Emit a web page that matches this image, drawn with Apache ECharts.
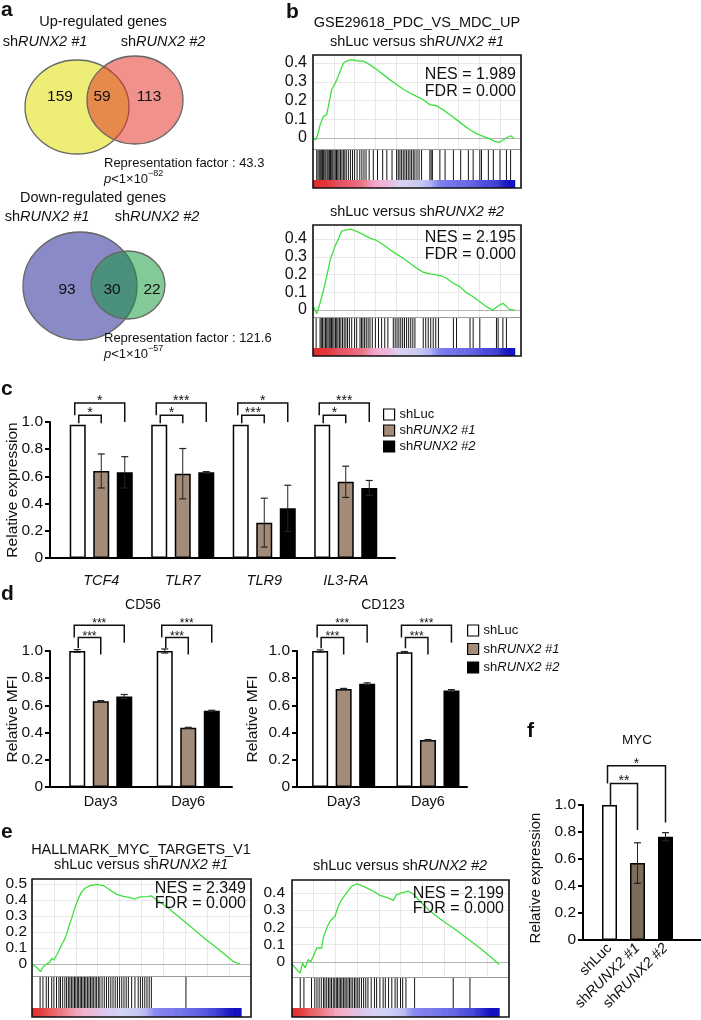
<!DOCTYPE html>
<html><head><meta charset="utf-8">
<script src="https://cdn.jsdelivr.net/npm/echarts@6/dist/echarts.min.js"></script>
<style>html,body{margin:0;padding:0;background:#fff}#main{width:701px;height:1020px}</style>
</head><body><div id="main"></div>
<script>
// ================= DATA =================
const vennUpCounts = [159, 59, 113];
const vennDownCounts = [93, 30, 22];
const vennUpFactor = '43.3', vennUpExp = '\u221282';
const vennDownFactor = '121.6', vennDownExp = '\u221257';

const groupNames = ['shLuc', 'shRUNX2 #1', 'shRUNX2 #2'];

// panel c
const cGenes = ['TCF4', 'TLR7', 'TLR9', 'IL3-RA'];
const cShLuc = [0.98, 0.98, 0.98, 0.98];
const cSh1 = [0.64, 0.62, 0.26, 0.56];
const cSh1Err = [0.125, 0.185, 0.18, 0.115];
const cSh2 = [0.63, 0.63, 0.365, 0.515];
const cSh2Err = [0.115, 0.005, 0.17, 0.055];
const cStarsInner = ['*', '*', '***', '*'];
const cStarsOuter = ['*', '***', '*', '***'];

// panel d
const dDays = ['Day3', 'Day6'];
const cd56ShLuc = [1.0, 1.0], cd56ShLucErr = [0.01, 0.015];
const cd56Sh1 = [0.63, 0.435], cd56Sh1Err = [0.005, 0.004];
const cd56Sh2 = [0.665, 0.56], cd56Sh2Err = [0.015, 0.004];
const cd123ShLuc = [1.0, 0.99], cd123ShLucErr = [0.008, 0.006];
const cd123Sh1 = [0.72, 0.345], cd123Sh1Err = [0.005, 0.004];
const cd123Sh2 = [0.76, 0.71], cd123Sh2Err = [0.006, 0.006];
const dStars = ['***', '***'];

// panel f
const mycValues = [1.0, 0.57, 0.765];
const mycErr = [0, 0.15, 0.03];
const mycStarsInner = '**', mycStarsOuter = '*';

// GSEA ticks
const bTicks = [0, 0.1, 0.2, 0.3, 0.4];
const eTicks1 = [0, 0.1, 0.2, 0.3, 0.4, 0.5];
const eTicks2 = [0, 0.1, 0.2, 0.3, 0.4];

// GSEA b: GSE29618_PDC_VS_MDC_UP
const b1NES = '1.989', b1FDR = '0.000';
const b1Rank = [0,0.2,1.4,2.5,3.4,5,6.6,7.4,9,10.6,11.4,13,14.6,16.2,18.6,21,24.2,27.4,30.6,33.8,37,40.2,43.4,46.6,49.8,53,56.2,59.4,62.6,65.8,69,72.2,75.4,78.6,81.8,85,87.3,89.7,92.9,95,96.5];
const b1ES = [0,0.01,-0.01,0.027,0.07,0.115,0.125,0.17,0.26,0.29,0.31,0.355,0.40,0.41,0.418,0.412,0.41,0.39,0.365,0.338,0.31,0.285,0.26,0.24,0.222,0.204,0.178,0.172,0.15,0.124,0.098,0.07,0.044,0.023,0.009,-0.005,-0.018,-0.023,0.0,0.012,0.0];
const b1Hits = [1.8,2.4,3.0,3.5,4.0,4.6,5.1,5.7,6.2,6.8,7.3,7.9,8.4,9.0,9.5,10.1,10.7,11.3,11.9,12.5,13.2,13.9,14.6,15.3,16.0,17.0,18.0,19.0,20.0,21.2,22.5,23.5,24.5,25.5,27.0,29.0,31.0,33.5,35.5,38.0,40.2,41.0,41.8,42.6,43.4,44.2,45.0,45.8,46.6,47.4,48.2,49.0,50.0,51.0,52.2,56.2,56.8,57.4,61.0,63.5,67.5,71.0,74.7,77.0,80.2,81.0,84.3,86.7,89.9,93.0,95.0];
const b2NES = '2.195', b2FDR = '0.000';
const b2Rank = [0,0.2,1.8,3.4,5,6.6,8.2,10.6,12.2,13.8,16.2,18.6,21,24.2,27.4,30.6,33.8,37,40.2,43.4,46.6,49.8,53,56.2,59.4,61.8,64.2,67.4,70.6,73.8,77,80.2,83.4,86.5,88.9,91.3,94.5,97];
const b2ES = [0,0.02,-0.02,0.04,0.11,0.19,0.28,0.36,0.40,0.445,0.452,0.455,0.443,0.425,0.405,0.392,0.368,0.34,0.315,0.292,0.264,0.236,0.213,0.204,0.198,0.192,0.179,0.151,0.132,0.098,0.075,0.047,0.019,0.0,0.023,0.038,0.004,0.0];
const b2Hits = [1.5,3.4,4.0,4.6,5.3,6.0,6.6,7.2,7.8,8.3,8.9,9.5,10.1,10.8,11.4,12.0,12.7,13.4,14.2,15.0,15.8,16.6,17.5,18.6,20.0,21.0,22.6,23.3,24.0,24.8,25.6,26.5,27.4,28.5,30.0,31.5,33.0,34.5,36.0,38.6,39.5,40.4,41.3,42.2,43.1,44.0,45.0,46.0,47.0,48.0,49.0,53.0,54.2,55.4,56.6,57.8,59.0,60.3,67.5,69.0,75.5,77.0,80.2,88.2,89.0,91.3,93.0];
const bListEnd = 97;
const bRankColors = ['#e02828','#e23232','#e43c40','#e65060','#e85c6c','#ea6878','#ec7888','#f0a0c0','#f0b0d0','#ecb8dc','#dcd0f0','#d4d0f2','#ccccf2','#c4c4f2','#b0b0f0','#8080ee','#7878ec','#7070ea','#6a6ae8','#6464e6','#5050dc','#4848d8','#3c3cd2','#1414c0'];

// GSEA e: HALLMARK_MYC_TARGETS_V1
const e1NES = '2.349', e1FDR = '0.000';
const e1Rank = [0,2.1,3.9,5.1,6.6,8.1,9,10,11.3,12.8,13.5,15.1,16.6,18.1,19.6,21.2,22.7,24.2,26.5,29.5,32.6,35.6,38.7,41.7,44.8,47,49.3,52.4,54.6,56.9,61.5,66,70.6,75.2,79.7,84.3,88.9,91.9,95];
const e1ES = [0,-0.02,-0.048,-0.017,0,0.01,0.035,0.025,0.056,0.098,0.119,0.16,0.223,0.285,0.352,0.41,0.452,0.473,0.49,0.498,0.49,0.4625,0.435,0.423,0.415,0.406,0.419,0.421,0.425,0.4,0.358,0.306,0.254,0.202,0.15,0.102,0.05,0.015,0];
const e1Hits = [3.7,5,6.5,7.5,9,10,11.2,12.3,13,14,15,15.8,16.6,17.3,18,18.7,19.4,20,20.7,21.3,22,22.6,23.3,24,24.6,25.3,26,26.7,27.4,28,28.8,29.5,30.3,31,32,33,34,35,36,37,38,39,40,41,42,43,44,45.5,47,48.5,49.5,50.5,51.5,52.5,53.5,54.5,70.3];
const e2NES = '2.199', e2FDR = '0.000';
const e2Rank = [0,0.3,2.2,3.7,4.9,6,7.5,8.6,9.8,11.4,13.7,14.4,16,17.5,19.8,21.3,22.9,25.2,27.5,29.8,32.1,34.4,37.5,40.5,43.6,46.7,48.2,50.5,53.6,55.9,59,63.6,69.7,74.3,77.4,82,86.6,91.2,95.5];
const e2ES = [-0.01,-0.02,-0.044,-0.064,-0.006,-0.035,0.014,0,0.033,0.081,0.081,0.139,0.197,0.236,0.265,0.323,0.361,0.4,0.439,0.452,0.442,0.429,0.41,0.386,0.375,0.357,0.39,0.4,0.41,0.394,0.352,0.294,0.236,0.197,0.168,0.124,0.081,0.033,-0.015];
const e2Hits = [3.8,5.5,9.0,10.5,11.5,12.5,13.5,14.5,15.2,16,16.8,17.5,18.2,19,19.7,20.4,21,21.7,22.4,23,23.7,24.4,25,25.8,26.5,27.2,28,28.8,29.5,30.3,31,32,33,34,35,36.5,38,39,40.5,42,43,44.5,46,47.5,48.5,50,51,52.5,56.5,74.3,82];
const eListEnd = 95.5;
const eRankColors = ['#e32a2a','#e53d3d','#e85a5a','#ea7078','#ee8a98','#f2a4b8','#f0b4cc','#e8bcdc','#dcc4ea','#d6cef0','#d4d4f4','#cfd0f4','#c8c8f4','#b8b8f2','#8c8cf0','#8080ee','#7a7aec','#7474ea','#6c6ce8','#6262e4','#5252de','#4444d8','#2a2acc','#1111c0'];

// ================= STYLE / LAYOUT =================
const FONT = '"Liberation Sans", Arial, Helvetica, sans-serif';
const INK = '#111';
const BROWN = '#a28b79';
const BROWN_F = '#7d6c5a';
const GREEN = '#3ee03e';

const option = {animation:false, backgroundColor:'#fff', textStyle:{fontFamily:FONT},
  grid:[], xAxis:[], yAxis:[], series:[], graphic:[], legend:[]};
const G = option.graphic;
const shLabel = n => (n.indexOf('shRUNX2') === 0 ? 'sh{i|' + n.slice(2) + '}' : n);

function text(x, y, str, o) {
  o = o || {};
  const size = o.size || 14;
  const rich = Object.assign({i:{fontStyle:'italic', fontSize:size, fontFamily:FONT, fill:INK}}, o.rich || {});
  G.push({type:'text', x:x, y:y, rotation:o.rot || 0, z:100, silent:true,
    style:Object.assign({text:str, fill:INK, fontFamily:FONT, fontSize:size, fontWeight:o.weight || 'normal',
      align:o.align || 'center', verticalAlign:o.va || 'middle', rich:rich}, o.style || {})});
}
function addGrid(l, t, w, h) {
  option.grid.push({left:l, top:t, width:w, height:h, containLabel:false, outerBoundsMode:'none', show:false});
  return option.grid.length - 1;
}
function addX(c) { option.xAxis.push(c); return option.xAxis.length - 1; }
function addY(c) { option.yAxis.push(c); return option.yAxis.length - 1; }

// ---------- Venn diagrams (panel a) ----------
text(1, 10, 'a', {size:21, weight:'bold', align:'left'});
text(103, 22, 'Up-regulated genes', {size:14.5});
text(45, 42, 'sh{i|RUNX2 #1}', {size:14.5});
text(163, 42, 'sh{i|RUNX2 #2}', {size:14.5});
G.push({type:'ellipse', z:10, silent:true, shape:{cx:77, cy:107, rx:52, ry:47}, style:{fill:'#eeee77', stroke:'#666', lineWidth:1.3}});
G.push({type:'ellipse', z:11, silent:true, shape:{cx:135, cy:100, rx:48, ry:44}, style:{fill:'rgba(227,47,38,0.53)', stroke:'#666', lineWidth:1.3}});
text(60, 97, String(vennUpCounts[0]), {size:15.5});
text(102, 97, String(vennUpCounts[1]), {size:15.5});
text(149, 97, String(vennUpCounts[2]), {size:15.5});
const pRich = {pi:{fontStyle:'italic', fontSize:13, fontFamily:FONT, fill:INK, lineHeight:19},
  b:{fontSize:13, fontFamily:FONT, fill:INK, lineHeight:19},
  sup:{fontSize:9, fontFamily:FONT, fill:INK, verticalAlign:'top', lineHeight:9}};
text(104, 163, 'Representation factor : ' + vennUpFactor, {size:13, align:'left'});
text(104, 179, '{pi|p}{b|<1\u00d710}{sup|' + vennUpExp + '}', {size:13, align:'left', rich:pRich});

text(93, 198, 'Down-regulated genes', {size:14.5});
text(47, 217, 'sh{i|RUNX2 #1}', {size:14.5});
text(157, 217, 'sh{i|RUNX2 #2}', {size:14.5});
G.push({type:'ellipse', z:10, silent:true, shape:{cx:80, cy:286, rx:57, ry:54}, style:{fill:'#8a8ac6', stroke:'#666', lineWidth:1.3}});
G.push({type:'ellipse', z:11, silent:true, shape:{cx:128, cy:285, rx:37, ry:34}, style:{fill:'rgba(10,150,50,0.5)', stroke:'#666', lineWidth:1.3}});
text(67, 290, String(vennDownCounts[0]), {size:15.5});
text(112, 290, String(vennDownCounts[1]), {size:15.5});
text(152, 290, String(vennDownCounts[2]), {size:15.5});
text(104, 338, 'Representation factor : ' + vennDownFactor, {size:13, align:'left'});
text(104, 354, '{pi|p}{b|<1\u00d710}{sup|' + vennDownExp + '}', {size:13, align:'left', rich:pRich});

// ---------- GSEA panels ----------
function gseaPanel(g) {
  const L = g.left, T = g.top, W = g.width;
  const gc = addGrid(L, T, W, g.curveH);
  const xc = addX({gridIndex:gc, type:'value', min:0, max:100, interval:10,
    axisLine:{show:true, onZero:false, lineStyle:{color:'#9a9a9a', width:1}}, axisTick:{show:false},
    axisLabel:{show:false}, splitLine:{show:true, lineStyle:{color:'#e8e8e8', width:1}}});
  const yc = addY({gridIndex:gc, type:'value', min:g.yMin, max:g.yMax,
    axisLine:{show:false}, axisTick:{show:false}, splitLine:{show:false},
    axisLabel:{show:true, customValues:g.ticks, formatter:v => (Math.abs(v) < 1e-9 ? '0' : v.toFixed(1)),
      fontSize:g.tickFont, color:INK, margin:g.labelMargin, fontFamily:FONT}});
  option.series.push({type:'line', xAxisIndex:xc, yAxisIndex:yc, silent:true, z:10,
    data:g.rank.map((r, i) => [r, g.es[i]]), showSymbol:false, symbol:'none',
    lineStyle:{color:GREEN, width:1.3},
    markLine:{silent:true, symbol:'none', label:{show:false}, z:1,
      data:g.ticks.map(t => ({yAxis:t, lineStyle:{color:(t === 0 ? '#b4b4b4' : '#e8e8e8'), width:1, type:'solid'}}))}});
  // hit strip
  const gs = addGrid(L, T + g.curveH, W, g.stripH);
  const xs = addX({gridIndex:gs, type:'value', min:0, max:100, show:false});
  const ys = addY({gridIndex:gs, type:'value', min:0, max:1, show:false});
  option.series.push({type:'custom', xAxisIndex:xs, yAxisIndex:ys, silent:true, z:4,
    data:g.hits.map(h => [h, 0]),
    renderItem:(params, api) => {
      const cs = params.coordSys;
      const x = api.coord([api.value(0), 0])[0];
      return {type:'line', shape:{x1:x, y1:cs.y + 1, x2:x, y2:cs.y + cs.height}, style:{stroke:'#151515', lineWidth:1}};
    }});
  // rank colour bar
  const gk = addGrid(L, T + g.curveH + g.stripH, W, g.colorH);
  const xk = addX({gridIndex:gk, type:'value', min:0, max:100, show:false});
  const yk = addY({gridIndex:gk, type:'value', min:0, max:1, show:false});
  const step = g.listEnd / g.colors.length;
  option.series.push({type:'custom', xAxisIndex:xk, yAxisIndex:yk, silent:true, z:4,
    data:g.colors.map((c, i) => [i * step, 0]),
    renderItem:(params, api) => {
      const cs = params.coordSys;
      const i = params.dataIndex;
      const x0 = api.coord([api.value(0), 0])[0];
      const x1 = api.coord([api.value(0) + step, 0])[0];
      const c0 = g.colors[i], c1 = g.colors[Math.min(i + 1, g.colors.length - 1)];
      return {type:'rect', shape:{x:x0, y:cs.y, width:x1 - x0 + 0.5, height:cs.height},
        style:{fill:new echarts.graphic.LinearGradient(0, 0, 1, 0, [{offset:0, color:c0}, {offset:1, color:c1}])}};
    }});
  // frame
  G.push({type:'rect', z:120, silent:true, shape:{x:L, y:T, width:W, height:g.curveH + g.stripH + g.colorH},
    style:{fill:'none', stroke:INK, lineWidth:1.6}});
  text(L + W - 5, g.nesY, 'NES = ' + g.nes, {size:16, align:'right'});
  text(L + W - 5, g.nesY + g.fdrDy, 'FDR = ' + g.fdr, {size:16, align:'right'});
}

text(286, 12, 'b', {size:21, weight:'bold', align:'left'});
text(417, 23, 'GSE29618_PDC_VS_MDC_UP', {size:14.5});
text(417, 42, 'shLuc versus sh{i|RUNX2 #1}', {size:14.5});
gseaPanel({left:313, top:55, width:208, curveH:94, stripH:31, colorH:8, yMin:-0.0587, yMax:0.4427,
  ticks:bTicks, tickFont:16, labelMargin:6, rank:b1Rank, es:b1ES, hits:b1Hits, colors:bRankColors, listEnd:bListEnd,
  nes:b1NES, fdr:b1FDR, nesY:75, fdrDy:17});
text(417, 212, 'shLuc versus sh{i|RUNX2 #2}', {size:14.5});
gseaPanel({left:313, top:225, width:208, curveH:92, stripH:31, colorH:8, yMin:-0.039, yMax:0.479,
  ticks:bTicks, tickFont:16, labelMargin:6, rank:b2Rank, es:b2ES, hits:b2Hits, colors:bRankColors, listEnd:bListEnd,
  nes:b2NES, fdr:b2FDR, nesY:238, fdrDy:17});

text(1, 832, 'e', {size:21, weight:'bold', align:'left'});
text(141, 850, 'HALLMARK_MYC_TARGETS_V1', {size:14.5});
text(141, 865, 'shLuc versus sh{i|RUNX2 #1}', {size:14.5});
gseaPanel({left:32, top:879, width:219, curveH:97, stripH:32, colorH:9, yMin:-0.075, yMax:0.531,
  ticks:eTicks1, tickFont:15.5, labelMargin:5, rank:e1Rank, es:e1ES, hits:e1Hits, colors:eRankColors, listEnd:eListEnd,
  nes:e1NES, fdr:e1FDR, nesY:889, fdrDy:15});
text(400, 866, 'shLuc versus sh{i|RUNX2 #2}', {size:14.5});
gseaPanel({left:292, top:880, width:217, curveH:97, stripH:31, colorH:9, yMin:-0.087, yMax:0.475,
  ticks:eTicks2, tickFont:15.5, labelMargin:7, rank:e2Rank, es:e2ES, hits:e2Hits, colors:eRankColors, listEnd:eListEnd,
  nes:e2NES, fdr:e2FDR, nesY:894, fdrDy:15});

// ---------- Bar panels ----------
function barPanel(p) {
  const ga = addGrid(p.axisLeft, p.top, p.axisWidth, p.height);
  addX({gridIndex:ga, type:'value', min:0, max:1, axisLine:{show:true, onZero:false, lineStyle:{color:'#000', width:2}},
    axisTick:{show:false}, axisLabel:{show:false}, splitLine:{show:false}});
  addY({gridIndex:ga, type:'value', min:0, max:1, interval:0.2,
    axisLine:{show:true, lineStyle:{color:'#000', width:2}},
    axisTick:{show:true, length:5, lineStyle:{color:'#000', width:2}},
    axisLabel:{fontSize:p.tickFont, color:INK, margin:7, fontFamily:FONT, formatter:v => (v === 0 ? '0' : v.toFixed(1))},
    splitLine:{show:false}});
  const gb = addGrid(p.barLeft, p.top, p.barWidth, p.height);
  const xi = addX({gridIndex:gb, type:'category', data:p.categories, axisLine:{show:false}, axisTick:{show:false},
    axisLabel:Object.assign({interval:0, color:INK, fontFamily:FONT}, p.xLabel)});
  const yi = addY({gridIndex:gb, type:'value', min:0, max:1, show:false});
  p.series.forEach((s, si) => {
    option.series.push({type:'bar', name:s.name, xAxisIndex:xi, yAxisIndex:yi, barWidth:p.bw, barGap:p.barGap,
      data:s.data, itemStyle:{color:s.color, borderColor:'#000', borderWidth:1.5}, z:2, silent:true});
    const off = s.offset;
    const errData = s.values.map((v, i) => [i, v - (s.err[i] || 0), v + (s.err[i] || 0)]).filter(d => d[2] - d[1] > 0);
    option.series.push({type:'custom', xAxisIndex:xi, yAxisIndex:yi, z:5, silent:true, data:errData,
      renderItem:(params, api) => {
        const a = api.coord([api.value(0), api.value(1)]);
        const b = api.coord([api.value(0), api.value(2)]);
        const x = a[0] + off, cap = 3.5;
        return {type:'group', children:[
          {type:'line', shape:{x1:x, y1:a[1], x2:x, y2:b[1]}, style:{stroke:'#222', lineWidth:1}},
          {type:'line', shape:{x1:x - cap, y1:b[1], x2:x + cap, y2:b[1]}, style:{stroke:'#222', lineWidth:1.2}},
          {type:'line', shape:{x1:x - cap, y1:a[1], x2:x + cap, y2:a[1]}, style:{stroke:'#222', lineWidth:1.2}}]};
      }});
  });
  option.series.push({type:'custom', xAxisIndex:xi, yAxisIndex:yi, z:6, silent:true, clip:false,
    data:p.brackets.map(b => b.slice(0, 7)),
    renderItem:(params, api) => {
      const cat = api.value(0);
      const c0 = api.coord([cat, api.value(3)]);
      const x1 = c0[0] + api.value(1) * p.slot + api.value(6);
      const x2 = c0[0] + api.value(2) * p.slot;
      const yT = c0[1], yL = api.coord([cat, api.value(4)])[1], yR = api.coord([cat, api.value(5)])[1];
      return {type:'group', children:[
        {type:'polyline', shape:{points:[[x1, yL], [x1, yT], [x2, yT], [x2, yR]]}, style:{stroke:INK, lineWidth:1.5, fill:null}},
        {type:'text', style:{text:p.bracketLabels[params.dataIndex], x:(x1 + x2) / 2, y:yT + p.starDy,
          align:'center', verticalAlign:'bottom', fontSize:p.starSize, fontFamily:FONT, fill:INK}}]};
    }});
}

const barNamesStyled = (vals, errs, name, color, offset) => ({name, color, offset, values:vals, err:errs, data:vals});

// panel c
text(1, 389, 'c', {size:21, weight:'bold', align:'left'});
text(13, 490, 'Relative expression', {size:15.5, rot:Math.PI / 2});
const cBrackets = [], cBracketLabels = [];
cGenes.forEach((g, i) => {
  cBrackets.push([i, -1, 0, 1.05, 0.99, 0.99, 1]); cBracketLabels.push(cStarsInner[i]);
  cBrackets.push([i, -1, 1, 1.14, 1.05, 1.0, -3]); cBracketLabels.push(cStarsOuter[i]);
});
barPanel({axisLeft:50, axisWidth:345, top:422, height:136, barLeft:60.5, barWidth:326, bw:16, barGap:'47%', slot:23.5,
  tickFont:15.5, categories:cGenes,
  xLabel:{fontStyle:'italic', fontSize:14.5, margin:15},
  series:[barNamesStyled(cShLuc, [0,0,0,0], groupNames[0], '#fff', -23.5),
          barNamesStyled(cSh1, cSh1Err, groupNames[1], BROWN, 0),
          barNamesStyled(cSh2, cSh2Err, groupNames[2], '#000', 23.5)],
  brackets:cBrackets, bracketLabels:cBracketLabels, starDy:5, starSize:14});

// panel d
text(1, 594, 'd', {size:21, weight:'bold', align:'left'});
text(143, 605, 'CD56', {size:14});
text(383, 605, 'CD123', {size:14});
text(13, 719, 'Relative MFI', {size:15.5, rot:Math.PI / 2});
text(253, 719, 'Relative MFI', {size:15.5, rot:Math.PI / 2});
const dBrackets = [], dBracketLabels = [];
dDays.forEach((d, i) => {
  dBrackets.push([i, -1, 0, 1.10, 1.02, 0.975, 1]); dBracketLabels.push(dStars[i]);
  dBrackets.push([i, -1, 1, 1.19, 1.10, 1.06, -3]); dBracketLabels.push(dStars[i]);
});
barPanel({axisLeft:50, axisWidth:182, top:651, height:136, barLeft:57, barWidth:175, bw:16, barGap:'47%', slot:23.5,
  tickFont:15.5, categories:dDays, xLabel:{fontSize:14.5, margin:7},
  series:[barNamesStyled(cd56ShLuc, cd56ShLucErr, groupNames[0], '#fff', -23.5),
          barNamesStyled(cd56Sh1, cd56Sh1Err, groupNames[1], BROWN, 0),
          barNamesStyled(cd56Sh2, cd56Sh2Err, groupNames[2], '#000', 23.5)],
  brackets:dBrackets, bracketLabels:dBracketLabels, starDy:5, starSize:12});
barPanel({axisLeft:297, axisWidth:170, top:651, height:136, barLeft:301.5, barWidth:168.6, bw:16, barGap:'47%', slot:23.5,
  tickFont:15.5, categories:dDays, xLabel:{fontSize:14.5, margin:7},
  series:[barNamesStyled(cd123ShLuc, cd123ShLucErr, groupNames[0], '#fff', -23.5),
          barNamesStyled(cd123Sh1, cd123Sh1Err, groupNames[1], BROWN, 0),
          barNamesStyled(cd123Sh2, cd123Sh2Err, groupNames[2], '#000', 23.5)],
  brackets:dBrackets, bracketLabels:dBracketLabels, starDy:5, starSize:12});

// panel f
text(527, 731, 'f', {size:21, weight:'bold', align:'left'});
text(637, 740, 'MYC', {size:13.5});
text(536, 878, 'Relative expression', {size:15, rot:Math.PI / 2});
const fColors = ['#fff', BROWN_F, '#000'];
barPanel({axisLeft:583, axisWidth:118, top:805, height:135, barLeft:595.5, barWidth:84, bw:15, barGap:'0%', slot:28,
  tickFont:15.5, categories:groupNames,
  xLabel:{rotate:45, fontSize:14.5, margin:6, formatter:shLabel, rich:{i:{fontStyle:'italic', fontSize:14.5, color:INK, fontFamily:FONT}}},
  series:[{name:'MYC', color:'#fff', offset:0, values:mycValues, err:mycErr,
           data:mycValues.map((v, i) => ({value:v, itemStyle:{color:fColors[i]}}))}],
  brackets:[[1, -1, 0, 1.16, 1.0, 0.815, 1], [1, -1, 1, 1.29, 1.16, 0.87, -2]],
  bracketLabels:[mycStarsInner, mycStarsOuter], starDy:5, starSize:14});

// ---------- legends ----------
const legendBase = {orient:'vertical', padding:0, itemWidth:11, itemHeight:11, icon:'rect', selectedMode:false,
  data:groupNames, formatter:shLabel, itemStyle:{borderColor:'#000', borderWidth:1.2},
  textStyle:{fontSize:13, color:INK, fontFamily:FONT, rich:{i:{fontStyle:'italic', fontSize:13, color:INK, fontFamily:FONT}}}};
option.legend.push(Object.assign({}, legendBase, {left:383, top:408, itemGap:3}));
option.legend.push(Object.assign({}, legendBase, {left:467, top:624, itemGap:5.5}));

const chart = echarts.init(document.getElementById('main'), null, {renderer:'canvas', width:701, height:1020});
chart.setOption(option);
</script></body></html>
